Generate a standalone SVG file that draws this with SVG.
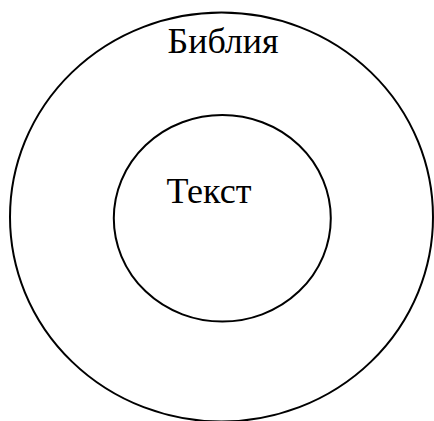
<svg xmlns="http://www.w3.org/2000/svg" width="434" height="421" viewBox="0 0 434 421">
<style>
.c{fill:none;stroke:#000;stroke-width:2}
.t{font-family:"Liberation Serif","Times New Roman",serif;font-size:36px;fill:#000}
</style>
<rect width="434" height="421" fill="#fff"/>
<g id="bible">
<ellipse class="c" cx="221.5" cy="217" rx="211.5" ry="204.5"/>
<text class="t" x="167.5" y="53">Библия</text>
</g>
<g id="text">
<ellipse class="c" cx="222.3" cy="218.3" rx="108.5" ry="103.3"/>
<text class="t" x="166.5" y="203">Текст</text>
</g>
<g id="connectors"/>
</svg>
